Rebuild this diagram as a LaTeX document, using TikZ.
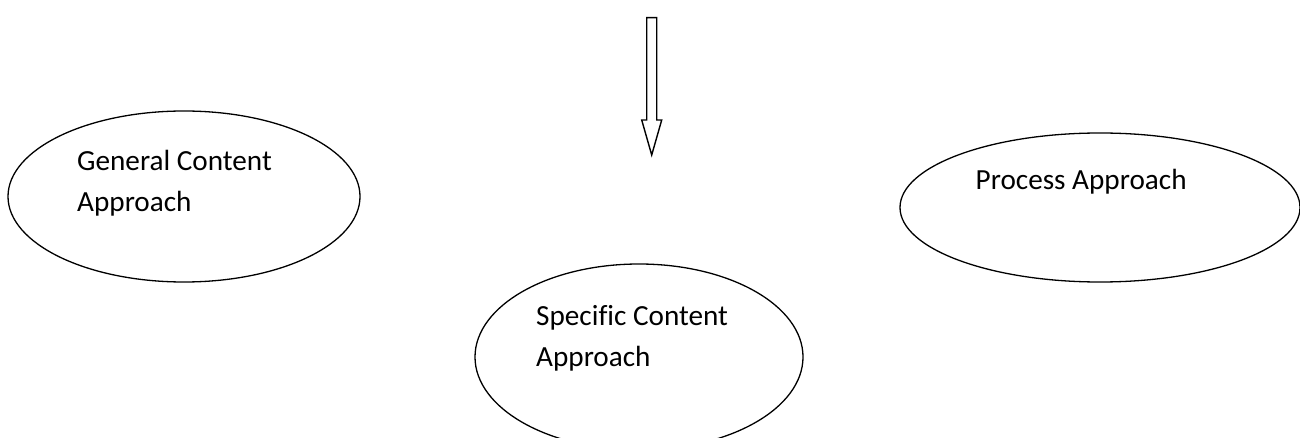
\documentclass[tikz,border=0pt]{standalone}
\usepackage{fontspec}
\setmainfont{Carlito}[Ligatures=NoCommon]
\usetikzlibrary{shapes.geometric}
\tikzset{
  oval/.style={draw=black, line width=1.3pt, ellipse, inner sep=0pt},
  lbl/.style={anchor=base west, inner sep=0pt, font=\fontsize{29.2}{34}\selectfont},
  hollowarrow/.style={draw=black, line width=1.4pt, fill=white, line join=miter}
}
\begin{document}
\begin{tikzpicture}[x=1pt, y=-1pt]
\useasboundingbox (0,0) rectangle (1300,438);
\clip (0,0) rectangle (1300,438);
\fill[white] (0,0) rectangle (1300,438);
% ellipses
\node[oval, minimum width=352pt, minimum height=171pt] (gen) at (184,196.5) {};
\node[oval, minimum width=400pt, minimum height=149pt] (proc) at (1100,207.5) {};
\node[oval, minimum width=328pt, minimum height=186pt] (spec) at (639,357) {};
% labels
\node[lbl] (genA) at (77,171) {General Content};
\node[lbl] (genB) at (77,212) {Approach};
\node[lbl] (procA) at (975.5,190) {Process Approach};
\node[lbl] (specA) at (536,325.5) {Specific Content};
\node[lbl] (specB) at (536,366.5) {Approach};
% block arrow
\draw[hollowarrow] (646.7,17.7) -- (656.7,17.7) -- (656.7,120) -- (661.7,120)
  -- (651.7,155) -- (641.7,120) -- (646.7,120) -- cycle;
\end{tikzpicture}
\end{document}
